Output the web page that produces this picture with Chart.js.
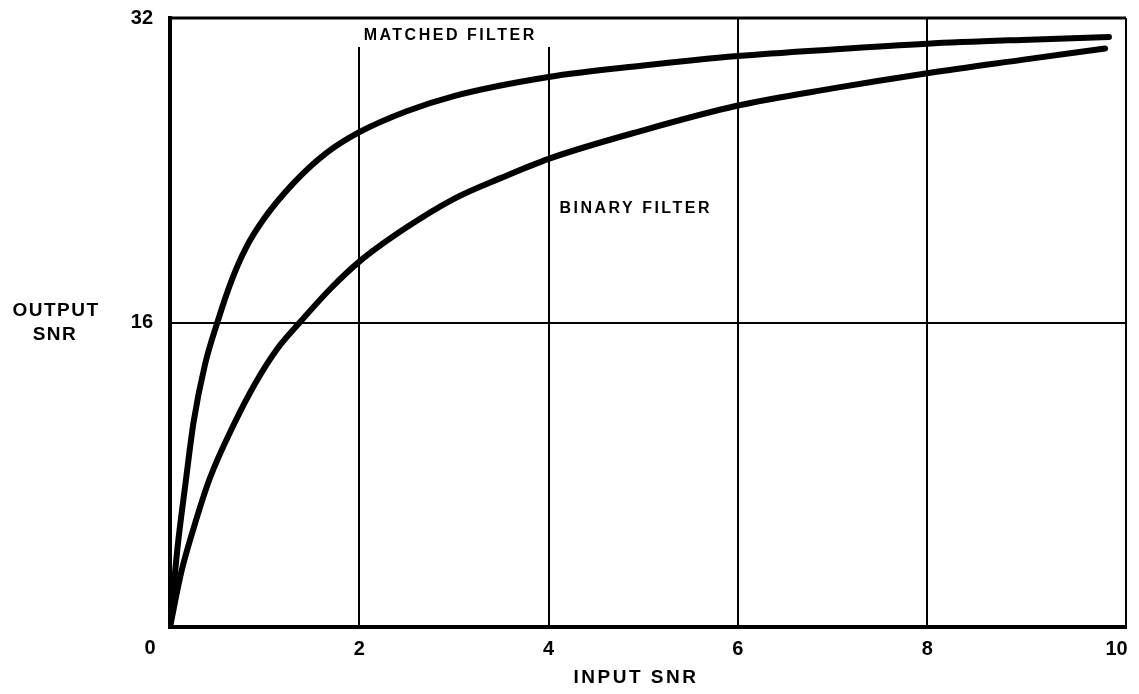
<!DOCTYPE html>
<html lang="en">
<head>
    <meta charset="UTF-8">
    <title>Output SNR vs input SNR</title>
    <style>
        body { margin: 0; background: #fff; }
        #wrap { width: 1139px; height: 694px; }
    </style>
</head>
<body>
<div id="wrap"><canvas id="snr-chart"></canvas></div>
<script src="https://cdn.jsdelivr.net/npm/chart.js@4/dist/chart.umd.min.js"></script>
<script>
    // values
    const matchedX = [0, 0.08, 0.16, 0.25, 0.37, 0.5, 0.65, 0.8, 1.0, 1.3, 1.65, 2.0, 2.5, 3.0, 4.0, 5.0, 6.0, 7.0, 8.0, 9.0, 9.92];
    const matchedY = [0, 4.2, 7.4, 10.8, 13.8, 16.0, 18.2, 19.9, 21.5, 23.3, 24.9, 26.0, 27.1, 27.9, 28.9, 29.5, 30.0, 30.35, 30.65, 30.85, 31.0];

    const binaryX = [0, 0.12, 0.25, 0.42, 0.67, 0.9, 1.13, 1.37, 1.7, 2.0, 2.5, 3.0, 3.5, 4.0, 5.0, 6.0, 7.0, 8.0, 9.0, 9.88];
    const binaryY = [0, 2.9, 5.2, 7.8, 10.6, 12.8, 14.6, 16.0, 17.8, 19.2, 21.0, 22.5, 23.6, 24.6, 26.1, 27.4, 28.3, 29.1, 29.8, 30.4];

    const xTicks = [2, 4, 6, 8, 10];
    const yTicks = [16, 32];

    function toPoints(xs, ys) {
        const pts = [];
        for (let i = 0; i < xs.length; i++) {
            pts.push({x: xs[i], y: ys[i]});
        }
        return pts;
    }

    // frame + free text labels
    const decor = {
        id: 'decor',
        afterDraw(chart) {
            const ctx = chart.ctx;
            const a = chart.chartArea;
            const xs = chart.scales.x;
            const ys = chart.scales.y;
            ctx.save();

            // the 2 and 4 gridlines stop short under the "MATCHED FILTER" label
            ctx.fillStyle = '#fff';
            ctx.fillRect(xs.getPixelForValue(1.9), a.top, xs.getPixelForValue(4.1) - xs.getPixelForValue(1.9), 29);

            ctx.strokeStyle = '#000';
            ctx.lineWidth = 3;
            ctx.beginPath();
            ctx.moveTo(a.left, a.top);
            ctx.lineTo(a.right, a.top);
            ctx.stroke();
            ctx.lineWidth = 2;
            ctx.beginPath();
            ctx.moveTo(a.right, a.top);
            ctx.lineTo(a.right, a.bottom);
            ctx.stroke();

            ctx.fillStyle = '#000';
            ctx.textAlign = 'center';
            ctx.textBaseline = 'middle';

            ctx.font = 'bold 20px "Liberation Sans", Arial, sans-serif';
            ctx.fillText('0', xs.getPixelForValue(0) - 20, a.bottom + 21);

            ctx.letterSpacing = '2.5px';
            ctx.font = 'bold 16px "Liberation Sans", Arial, sans-serif';
            ctx.fillText('MATCHED FILTER', xs.getPixelForValue(2.96), ys.getPixelForValue(31.1));
            ctx.fillText('BINARY FILTER', xs.getPixelForValue(4.92), ys.getPixelForValue(21.97));

            ctx.font = 'bold 19px "Liberation Sans", Arial, sans-serif';
            ctx.fillText('INPUT SNR', 636, a.bottom + 51);
            ctx.letterSpacing = '1.5px';
            ctx.fillText('OUTPUT', 56, 311);
            ctx.fillText('SNR', 55, 335);
            ctx.restore();
        }
    };

    new Chart(document.getElementById('snr-chart'), {
        type: 'line',
        data: {
            datasets: [{
                label: 'MATCHED FILTER',
                data: toPoints(matchedX, matchedY),
                borderColor: '#000',
                borderWidth: 6,
                borderCapStyle: 'round',
                pointRadius: 0,
                cubicInterpolationMode: 'monotone',
                fill: false
            }, {
                label: 'BINARY FILTER',
                data: toPoints(binaryX, binaryY),
                borderColor: '#000',
                borderWidth: 6,
                borderCapStyle: 'round',
                pointRadius: 0,
                cubicInterpolationMode: 'monotone',
                fill: false
            }]
        },
        options: {
            responsive: true,
            maintainAspectRatio: false,
            animation: false,
            layout: {padding: {left: 0, right: 13, top: 18, bottom: 0}},
            plugins: {
                legend: {display: false},
                tooltip: {enabled: false}
            },
            scales: {
                x: {
                    type: 'linear',
                    min: 0,
                    max: 10.1,
                    afterBuildTicks: s => { s.ticks = xTicks.map(v => ({value: v})); },
                    afterFit: s => { s.height = 67; },
                    grid: {
                        color: c => (c.tick && c.tick.value === 10) ? 'rgba(0,0,0,0)' : '#000',
                        lineWidth: 2,
                        drawTicks: false
                    },
                    border: {color: '#000', width: 4},
                    ticks: {
                        color: '#000',
                        padding: 10,
                        maxRotation: 0,
                        font: {family: '"Liberation Sans", Arial, sans-serif', size: 20, weight: 'bold'}
                    }
                },
                y: {
                    min: 0,
                    max: 32,
                    afterBuildTicks: s => { s.ticks = yTicks.map(v => ({value: v})); },
                    afterFit: s => { s.width = 170; s.paddingTop = 0; s.paddingBottom = 0; },
                    grid: {color: '#000', lineWidth: 2, drawTicks: false},
                    border: {color: '#000', width: 4},
                    ticks: {
                        color: '#000',
                        padding: 17,
                        font: {family: '"Liberation Sans", Arial, sans-serif', size: 20, weight: 'bold'}
                    }
                }
            }
        },
        plugins: [decor]
    });
</script>
</body>
</html>
